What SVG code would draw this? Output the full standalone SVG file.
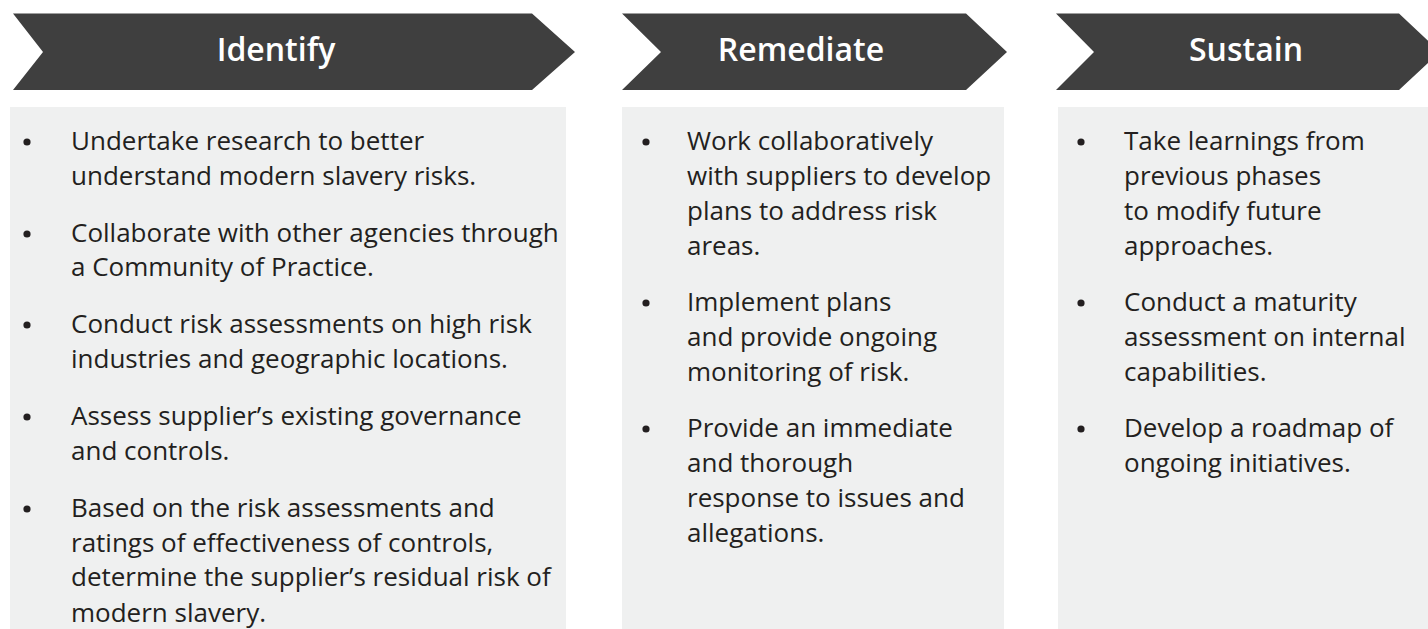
<svg xmlns="http://www.w3.org/2000/svg" width="1428" height="629" viewBox="0 0 1428 629">
<style>
.chev{fill:#3f3f3f}
.box{fill:#eff0f0}
.title{font-family:"Open Sans","Liberation Sans",sans-serif;font-weight:600;font-size:32px;fill:#ffffff;text-anchor:middle}
.body{font-family:"Open Sans","Liberation Sans",sans-serif;font-size:26px;fill:#231f20}
.dot{fill:#231f20}
</style>
<rect width="1428" height="629" fill="#ffffff"/>
<g id="identify">
<polygon class="chev" points="13,13.6 532,13.6 575,52 532,90 13,90 43,52"/>
<text class="title" x="276" y="60.5">Identify</text>
<rect class="box" x="10" y="107" width="556" height="522"/>
<circle class="dot" cx="27" cy="142" r="3.6"/>
<circle class="dot" cx="27" cy="234" r="3.6"/>
<circle class="dot" cx="27" cy="325" r="3.6"/>
<circle class="dot" cx="27" cy="417" r="3.6"/>
<circle class="dot" cx="27" cy="509" r="3.6"/>
<text class="body"><tspan x="71" y="150">Undertake research to better</tspan><tspan x="71" y="184.7">understand modern slavery risks.</tspan><tspan x="71" y="241.7">Collaborate with other agencies through</tspan><tspan x="71" y="276.4">a Community of Practice.</tspan><tspan x="71" y="333.4">Conduct risk assessments on high risk</tspan><tspan x="71" y="368.1">industries and geographic locations.</tspan><tspan x="71" y="425.1">Assess supplier’s existing governance</tspan><tspan x="71" y="459.8">and controls.</tspan><tspan x="71" y="516.8">Based on the risk assessments and</tspan><tspan x="71" y="551.5">ratings of effectiveness of controls,</tspan><tspan x="71" y="586.2">determine the supplier’s residual risk of</tspan><tspan x="71" y="621.5">modern slavery.</tspan></text>
</g>
<g id="remediate">
<polygon class="chev" points="622,13.6 966,13.6 1007,52 966,90 622,90 661,52"/>
<text class="title" x="801" y="60.5">Remediate</text>
<rect class="box" x="622" y="107" width="382" height="522"/>
<circle class="dot" cx="646" cy="142" r="3.6"/>
<circle class="dot" cx="646" cy="303" r="3.6"/>
<circle class="dot" cx="646" cy="429" r="3.6"/>
<text class="body"><tspan x="687" y="150">Work collaboratively</tspan><tspan x="687" y="185">with suppliers to develop</tspan><tspan x="687" y="220">plans to address risk</tspan><tspan x="687" y="255">areas.</tspan><tspan x="687" y="311">Implement plans</tspan><tspan x="687" y="346">and provide ongoing</tspan><tspan x="687" y="381">monitoring of risk.</tspan><tspan x="687" y="437">Provide an immediate</tspan><tspan x="687" y="472">and thorough</tspan><tspan x="687" y="507">response to issues and</tspan><tspan x="687" y="542">allegations.</tspan></text>
</g>
<g id="sustain">
<polygon class="chev" points="1056,13.6 1399,13.6 1440,52 1399,90 1056,90 1094,52"/>
<text class="title" x="1246" y="60.5">Sustain</text>
<rect class="box" x="1058" y="107" width="370" height="522"/>
<circle class="dot" cx="1081" cy="142" r="3.6"/>
<circle class="dot" cx="1081" cy="303" r="3.6"/>
<circle class="dot" cx="1081" cy="429" r="3.6"/>
<text class="body"><tspan x="1124" y="150">Take learnings from</tspan><tspan x="1124" y="185">previous phases</tspan><tspan x="1124" y="220">to modify future</tspan><tspan x="1124" y="255">approaches.</tspan><tspan x="1124" y="311">Conduct a maturity</tspan><tspan x="1124" y="346">assessment on internal</tspan><tspan x="1124" y="381">capabilities.</tspan><tspan x="1124" y="437">Develop a roadmap of</tspan><tspan x="1124" y="472">ongoing initiatives.</tspan></text>
</g>
<g id="connectors"></g>
</svg>
